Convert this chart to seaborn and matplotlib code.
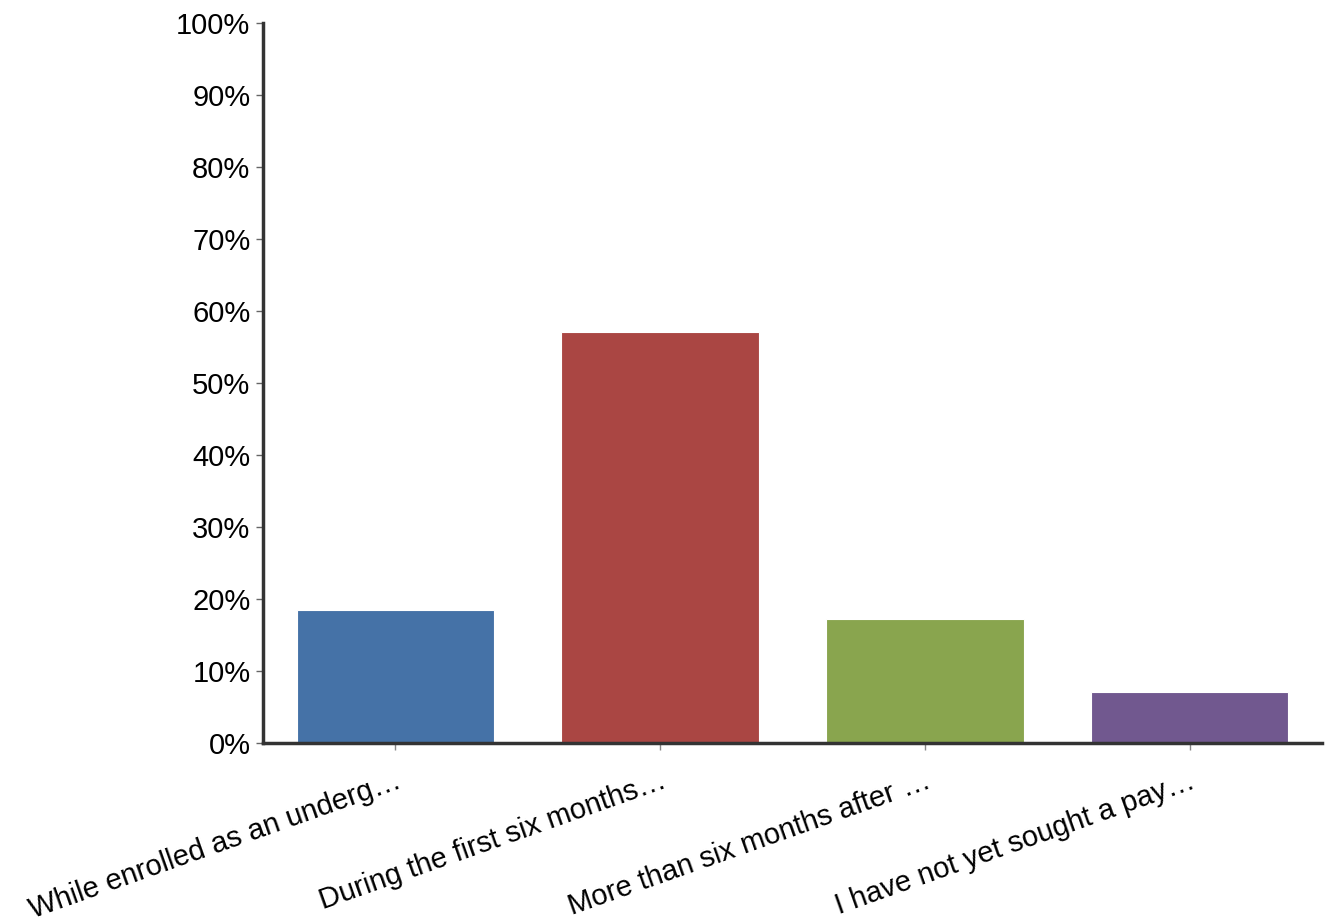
import matplotlib
matplotlib.use("Agg")
import matplotlib.pyplot as plt
import seaborn as sns
import pandas as pd
from matplotlib.ticker import PercentFormatter

categories = ["While enrolled as an underg\u2026",
              "During the first six months\u2026",
              "More than six months after \u2026",
              "I have not yet sought a pay\u2026"]
values = [18.5, 57.1, 17.2, 7.1]
colors = ["#4572A7", "#AA4643", "#89A54E", "#71588F"]

sns.set_style("white")
plt.rcParams['font.family'] = ['Liberation Sans', 'DejaVu Sans']

df = pd.DataFrame({"answer": categories, "pct": values})

fig = plt.figure(figsize=(13.32, 9.22), dpi=100)
ax = fig.add_axes([0.1974, 0.1941, 0.7951, 0.7809])
sns.barplot(data=df, x="answer", y="pct", hue="answer", palette=colors,
            width=0.746, saturation=1, legend=False, ax=ax, edgecolor="white", linewidth=0.8)

ax.set_xlim(-0.5, 3.5)
ax.set_ylim(0, 100)
ax.set_yticks(range(0, 101, 10))
ax.yaxis.set_major_formatter(PercentFormatter(decimals=0))
ax.set_xlabel("")
ax.set_ylabel("")

for s in ["top", "right"]:
    ax.spines[s].set_visible(False)
for s in ["left", "bottom"]:
    ax.spines[s].set_color("#333333")
    ax.spines[s].set_linewidth(2.5)

ax.tick_params(axis="y", left=True, length=5, width=1, color="#666666",
               labelsize=21, labelcolor="black", pad=4)
ax.tick_params(axis="x", bottom=True, length=5, width=1, color="#888888",
               labelsize=21, labelcolor="black", pad=12)
for lab in ax.get_xticklabels():
    lab.set_rotation(19.5)
    lab.set_ha("right")
    lab.set_rotation_mode("anchor")

fig.savefig("out.png", dpi=100)
